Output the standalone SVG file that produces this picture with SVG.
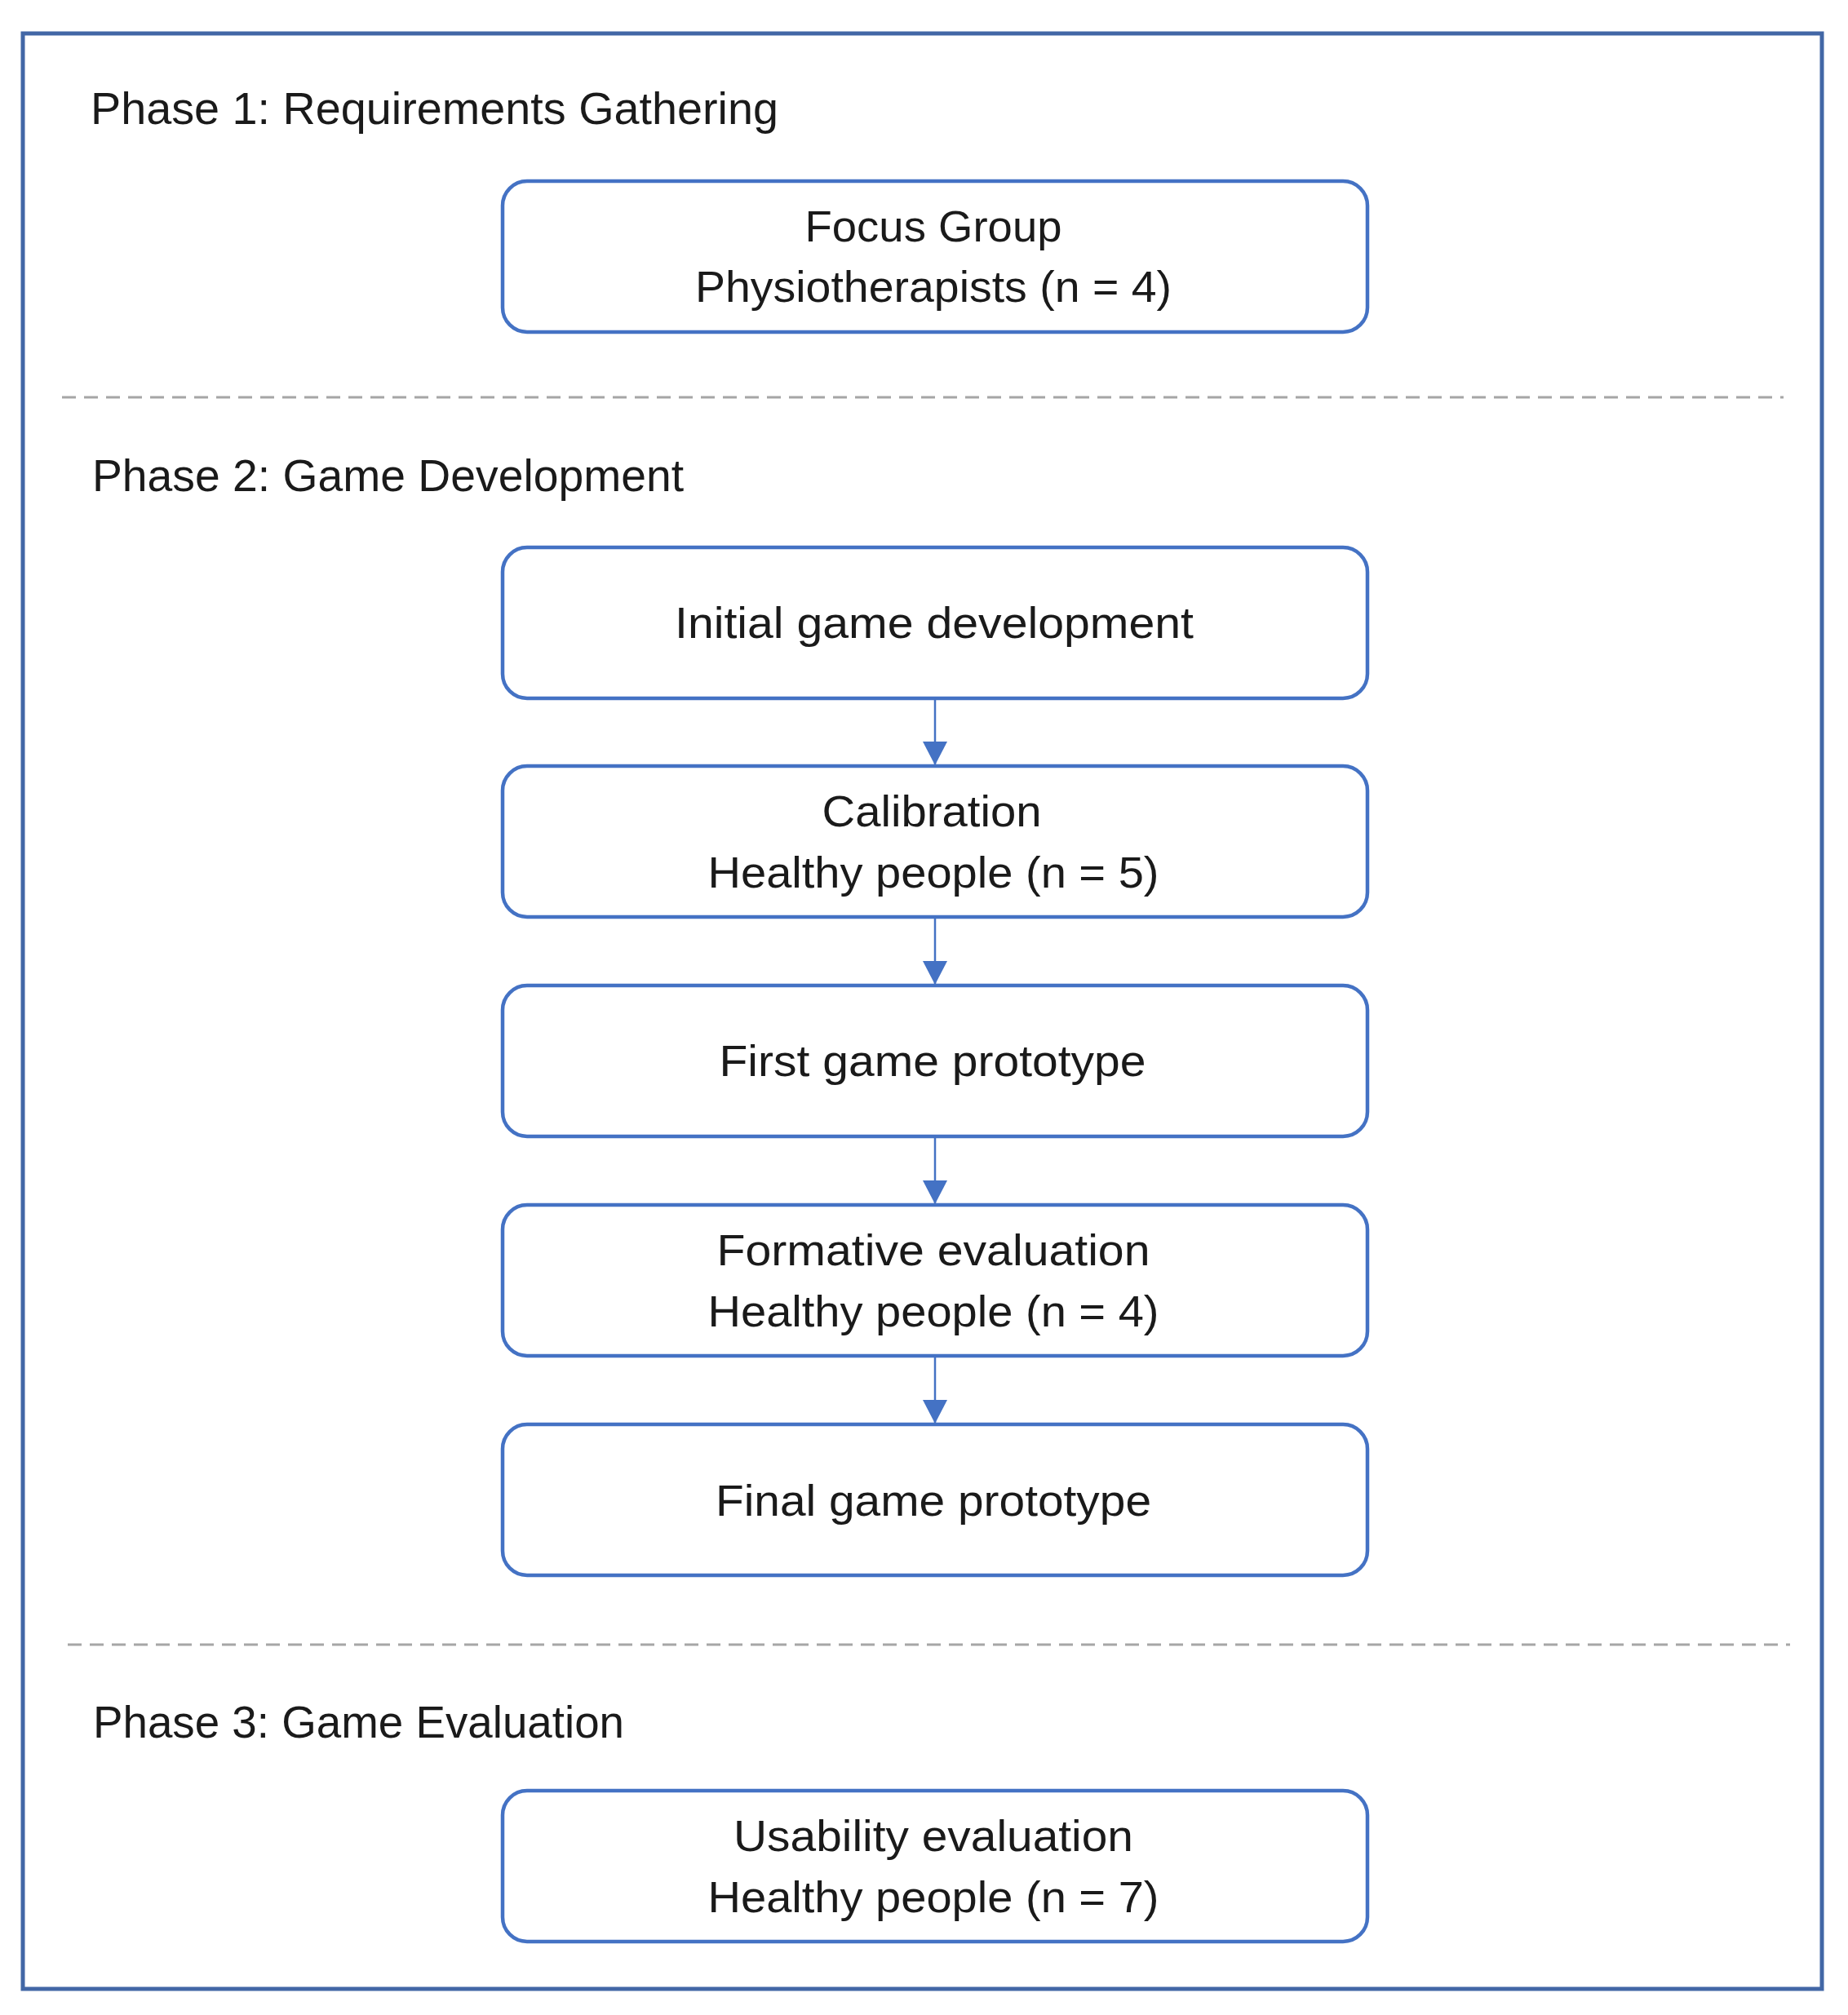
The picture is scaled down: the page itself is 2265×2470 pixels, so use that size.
<svg xmlns="http://www.w3.org/2000/svg" width="2265" height="2470" viewBox="0 0 2265 2470">
<style>
.bg{fill:#ffffff}
.frame{fill:none;stroke:#4267a6;stroke-width:5}
.sep{stroke:#a6a6a6;stroke-width:3;stroke-dasharray:17 10;fill:none}
.box{fill:#ffffff;stroke:#4472c4;stroke-width:4.5}
.conn{stroke:#4472c4;stroke-width:2.5;fill:none}
.phase{font-family:"Liberation Sans",Arial,sans-serif;font-size:55px;fill:#1a1a1a}
.lbl{font-family:"Liberation Sans",Arial,sans-serif;font-size:54px;fill:#1a1a1a;text-anchor:middle}
</style>
<defs>
<marker id="ah" markerUnits="userSpaceOnUse" markerWidth="29" markerHeight="30" refX="29" refY="15" orient="auto" viewBox="0 0 29 30">
<path d="M0,0 L29,15 L0,30 Z" fill="#4472c4"/>
</marker>
</defs>
<rect class="bg" x="0" y="0" width="2265" height="2470"/>
<rect class="frame" x="28" y="41" width="2205" height="2397"/>
<line class="sep" x1="76" y1="487" x2="2186" y2="487"/>
<line class="sep" x1="83" y1="2016" x2="2194" y2="2016"/>
<text class="phase" x="111" y="152" textLength="843" lengthAdjust="spacingAndGlyphs">Phase 1: Requirements Gathering</text>
<text class="phase" x="113" y="602" textLength="725" lengthAdjust="spacingAndGlyphs">Phase 2: Game Development</text>
<text class="phase" x="114" y="2130" textLength="651" lengthAdjust="spacingAndGlyphs">Phase 3: Game Evaluation</text>
<g id="connectors">
<line class="conn" x1="1146" y1="856" x2="1146" y2="938" marker-end="url(#ah)"/>
<line class="conn" x1="1146" y1="1124" x2="1146" y2="1207" marker-end="url(#ah)"/>
<line class="conn" x1="1146" y1="1393" x2="1146" y2="1476" marker-end="url(#ah)"/>
<line class="conn" x1="1146" y1="1662" x2="1146" y2="1745" marker-end="url(#ah)"/>
</g>
<g id="focus-group">
<rect class="box" x="616" y="222" width="1060" height="185" rx="30" ry="30"/>
<text class="lbl" x="1144" y="296" textLength="315" lengthAdjust="spacingAndGlyphs">Focus Group</text>
<text class="lbl" x="1144" y="370" textLength="584" lengthAdjust="spacingAndGlyphs">Physiotherapists (n = 4)</text>
</g>
<g id="initial-game-development">
<rect class="box" x="616" y="671" width="1060" height="185" rx="30" ry="30"/>
<text class="lbl" x="1145" y="782" textLength="636" lengthAdjust="spacingAndGlyphs">Initial game development</text>
</g>
<g id="calibration">
<rect class="box" x="616" y="939" width="1060" height="185" rx="30" ry="30"/>
<text class="lbl" x="1142" y="1013" textLength="269" lengthAdjust="spacingAndGlyphs">Calibration</text>
<text class="lbl" x="1144" y="1088" textLength="553" lengthAdjust="spacingAndGlyphs">Healthy people (n = 5)</text>
</g>
<g id="first-game-prototype">
<rect class="box" x="616" y="1208" width="1060" height="185" rx="30" ry="30"/>
<text class="lbl" x="1143" y="1319" textLength="523" lengthAdjust="spacingAndGlyphs">First game prototype</text>
</g>
<g id="formative-evaluation">
<rect class="box" x="616" y="1477" width="1060" height="185" rx="30" ry="30"/>
<text class="lbl" x="1144" y="1551" textLength="531" lengthAdjust="spacingAndGlyphs">Formative evaluation</text>
<text class="lbl" x="1144" y="1626" textLength="553" lengthAdjust="spacingAndGlyphs">Healthy people (n = 4)</text>
</g>
<g id="final-game-prototype">
<rect class="box" x="616" y="1746" width="1060" height="185" rx="30" ry="30"/>
<text class="lbl" x="1144" y="1858" textLength="534" lengthAdjust="spacingAndGlyphs">Final game prototype</text>
</g>
<g id="usability-evaluation">
<rect class="box" x="616" y="2195" width="1060" height="185" rx="30" ry="30"/>
<text class="lbl" x="1144" y="2269" textLength="490" lengthAdjust="spacingAndGlyphs">Usability evaluation</text>
<text class="lbl" x="1144" y="2344" textLength="553" lengthAdjust="spacingAndGlyphs">Healthy people (n = 7)</text>
</g>
</svg>
